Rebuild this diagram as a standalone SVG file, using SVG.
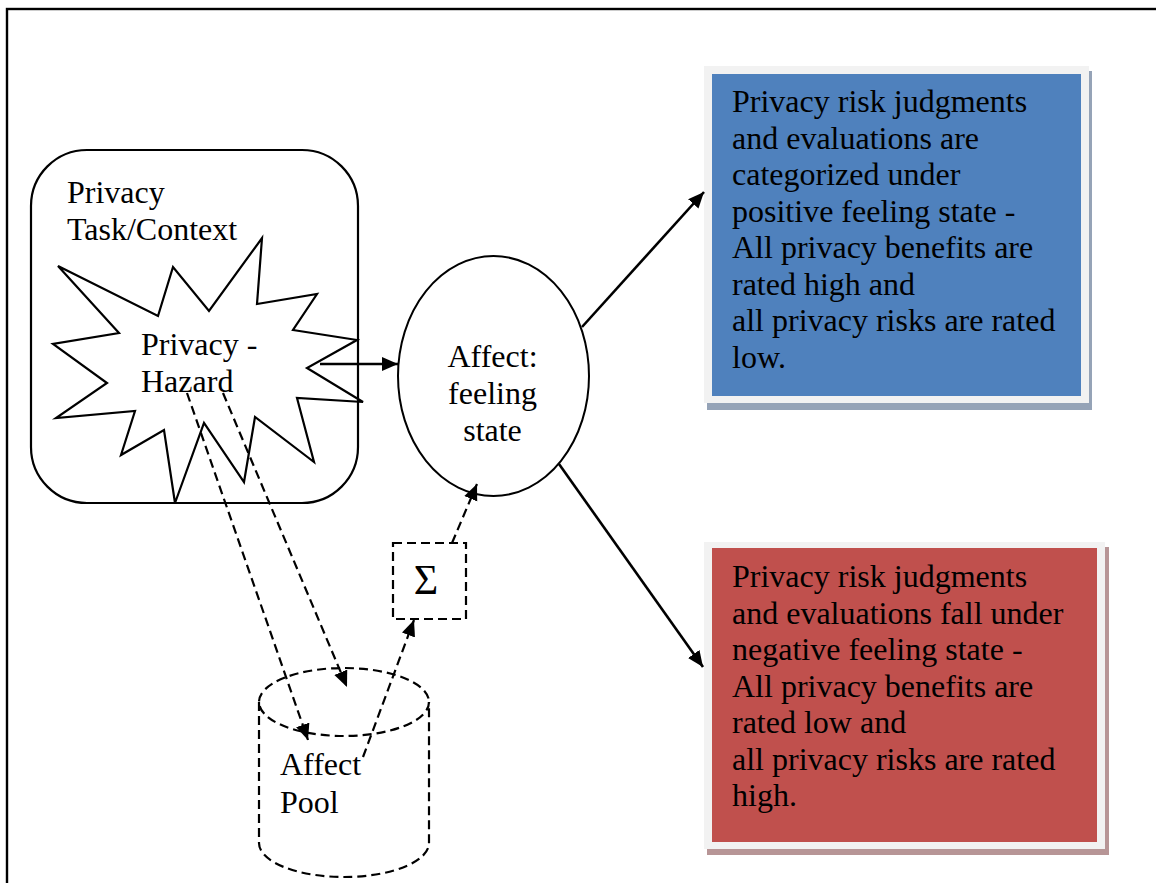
<svg xmlns="http://www.w3.org/2000/svg" width="1156" height="883" viewBox="0 0 1156 883">
  <style>
    .t { font-family: "Liberation Serif", "Times New Roman", serif; font-size: 32px; fill: #000; }
    .c { text-anchor: middle; }
    .solid { fill: none; stroke: #000; stroke-width: 2.2; }
    .dash { fill: none; stroke: #000; stroke-width: 2.2; stroke-dasharray: 9 5; }
    .conn { fill: none; stroke: #000; stroke-width: 2.6; }
  </style>
  <defs>
    <marker id="head" markerUnits="userSpaceOnUse" markerWidth="18" markerHeight="16" refX="16" refY="7" orient="auto">
      <path d="M0,0 L16,7 L0,14 z" fill="#000"/>
    </marker>
  </defs>

  <rect x="0" y="0" width="1156" height="883" fill="#fff"/>
  <!-- outer frame -->
  <rect x="7" y="9" width="1170" height="900" fill="none" stroke="#000" stroke-width="2.4"/>

  <!-- context box with hazard burst -->
  <g id="context">
    <rect x="31" y="150" width="327" height="353" rx="56" ry="56" class="solid" fill="#fff"/>
    <text class="t" x="67" y="203">Privacy</text>
    <text class="t" x="67" y="240">Task/Context</text>
  </g>

  <g id="hazard">
    <polygon class="solid" fill="#fff" points="58,266 158,316 173,267 209,311 262,238 257,304 317,294 293,330 357,340 307,368 363,402 297,398 314,462 255,417 244,482 204,423 175,503 164,430 121,455 135,411 56,418 107,383 53,344 119,333"/>
    <text class="t" x="141" y="355">Privacy -</text>
    <text class="t" x="141" y="392">Hazard</text>
  </g>

  <g id="feeling">
    <ellipse cx="493.5" cy="376" rx="95.5" ry="120" fill="#fff" stroke="#000" stroke-width="2"/>
    <text class="t c" x="492.5" y="367">Affect:</text>
    <text class="t c" x="492.5" y="404">feeling</text>
    <text class="t c" x="492.5" y="441">state</text>
  </g>

  <g id="sum">
    <rect x="393" y="543" width="73" height="76" class="dash" fill="#fff"/>
    <text class="t c" x="426" y="594" style="font-size:42px;font-weight:300">Σ</text>
  </g>

  <g id="pool">
    <path class="dash" fill="#fff" d="M259,702 L259,843 A85,34 0 0 0 429,843 L429,702"/>
    <ellipse cx="344" cy="702" rx="85" ry="34" class="dash"/>
    <text class="t" x="280" y="775">Affect</text>
    <text class="t" x="280" y="813">Pool</text>
  </g>

  <g id="positive">
    <rect x="707" y="71" width="385" height="339" fill="#95a3b7"/>
    <rect x="704" y="66" width="385" height="337" fill="#f2f2f2"/>
    <rect x="712" y="74" width="369" height="322" fill="#4f81bd"/>
    <text class="t" x="732" y="112">Privacy risk judgments</text>
    <text class="t" x="732" y="148.5">and evaluations are</text>
    <text class="t" x="732" y="185">categorized under</text>
    <text class="t" x="732" y="221.5">positive feeling state -</text>
    <text class="t" x="732" y="258">All privacy benefits are</text>
    <text class="t" x="732" y="294.5">rated high and</text>
    <text class="t" x="732" y="331">all privacy risks are rated</text>
    <text class="t" x="732" y="367.5">low.</text>
  </g>

  <g id="negative">
    <rect x="707" y="547" width="402" height="308" fill="#b79596"/>
    <rect x="704" y="542" width="401" height="307" fill="#f2f2f2"/>
    <rect x="712" y="548" width="385" height="294" fill="#c0504d"/>
    <text class="t" x="732" y="587">Privacy risk judgments</text>
    <text class="t" x="732" y="623.5">and evaluations fall under</text>
    <text class="t" x="732" y="660">negative feeling state -</text>
    <text class="t" x="732" y="696.5">All privacy benefits are</text>
    <text class="t" x="732" y="733">rated low and</text>
    <text class="t" x="732" y="769.5">all privacy risks are rated</text>
    <text class="t" x="732" y="806">high.</text>
  </g>

  <g id="connectors">
    <line class="conn" x1="320" y1="364" x2="398" y2="364" marker-end="url(#head)"/>
    <line class="conn" x1="582" y1="327" x2="704" y2="192" marker-end="url(#head)"/>
    <line class="conn" x1="559" y1="464" x2="703" y2="667" marker-end="url(#head)"/>
    <line class="dash" x1="187" y1="393" x2="308" y2="740" marker-end="url(#head)"/>
    <line class="dash" x1="223" y1="393" x2="347" y2="687" marker-end="url(#head)"/>
    <line class="dash" x1="363" y1="757" x2="414" y2="620" marker-end="url(#head)"/>
    <line class="dash" x1="452" y1="543" x2="477" y2="484" marker-end="url(#head)"/>
  </g>
</svg>
